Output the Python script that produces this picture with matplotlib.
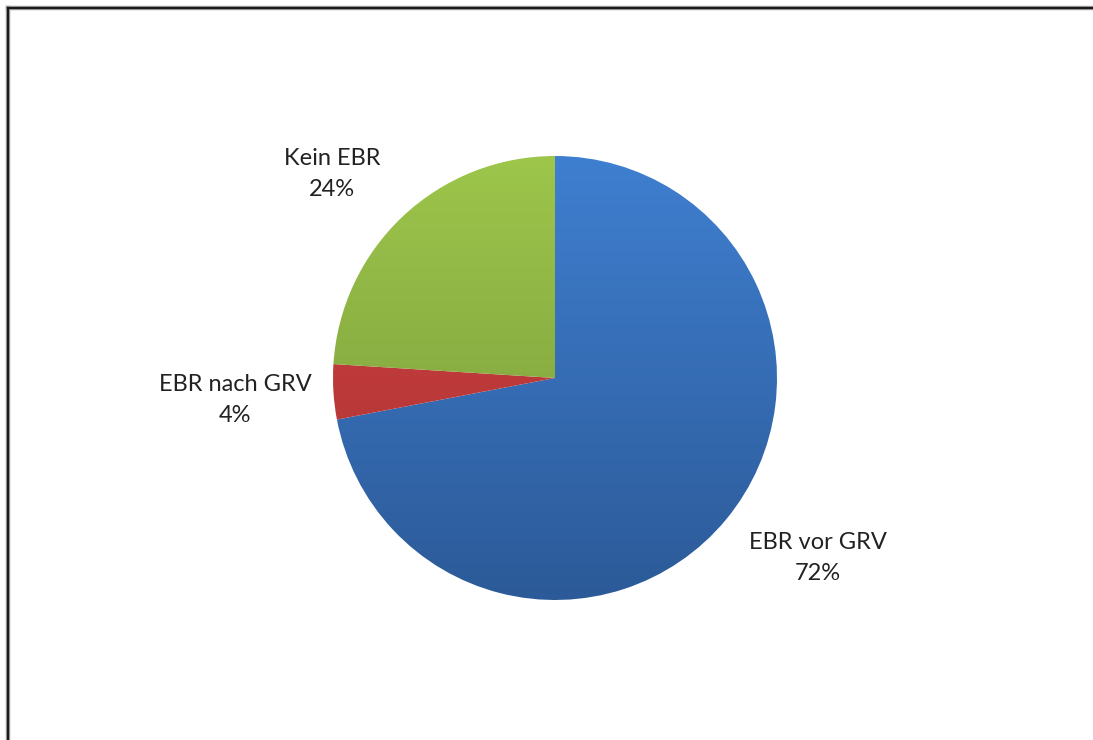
import numpy as np
import matplotlib.pyplot as plt
from matplotlib.colors import LinearSegmentedColormap
from matplotlib.lines import Line2D

plt.rcParams['font.family'] = ['Lato', 'DejaVu Sans']

# Anteile der Kategorien (im Uhrzeigersinn ab 12 Uhr)
labels = ['EBR vor GRV', 'EBR nach GRV', 'Kein EBR']
shares = [72, 4, 24]
# Verlauf je Segment: oben heller, unten dunkler
top_colors = ['#3f7fd0', '#d84444', '#9dc64b']
bottom_colors = ['#2c5a98', '#a33030', '#75953a']

W, H = 1093, 740
fig = plt.figure(figsize=(W / 100, H / 100), dpi=100)
ax = fig.add_axes([0.0, 0.0, 1.0, 1.0])

# Pie in Pixelkoordinaten (y von unten)
cx, cy, r = 555, H - 378, 222
wedges, _ = ax.pie(shares, startangle=90, counterclock=False, radius=r,
                   center=(cx, cy), frame=True,
                   wedgeprops=dict(linewidth=0))
ax.set_xlim(0, W)
ax.set_ylim(0, H)
ax.set_aspect('equal')
ax.axis('off')

grad = np.linspace(0, 1, 256).reshape(-1, 1)
for w, c0, c1 in zip(wedges, top_colors, bottom_colors):
    w.set_facecolor('none')
    cmap = LinearSegmentedColormap.from_list('g', [c0, c1])
    im = ax.imshow(grad, cmap=cmap, aspect='auto', origin='upper',
                   extent=(cx - r, cx + r, cy - r, cy + r), zorder=1)
    im.set_clip_path(w)

# Beschriftungen
label_pos = [(818, H - 558), (235, H - 400), (332, H - 174)]
for lab, val, (x, y) in zip(labels, shares, label_pos):
    ax.text(x, y, f'{lab}\n{val}%', ha='center', va='center',
            fontsize=17, color='#222222', linespacing=1.6)

# Rahmen des Diagrammbereichs
for lw, col in [(3.2, '#a0a0a0'), (1.6, '#1a1a1a')]:
    fig.add_artist(Line2D([8 / W, 1.0], [1 - 8 / H, 1 - 8 / H],
                          transform=fig.transFigure, color=col, lw=lw))
    fig.add_artist(Line2D([8 / W, 8 / W], [0.0, 1 - 8 / H],
                          transform=fig.transFigure, color=col, lw=lw))

fig.savefig('out.png', dpi=100, facecolor='white')
